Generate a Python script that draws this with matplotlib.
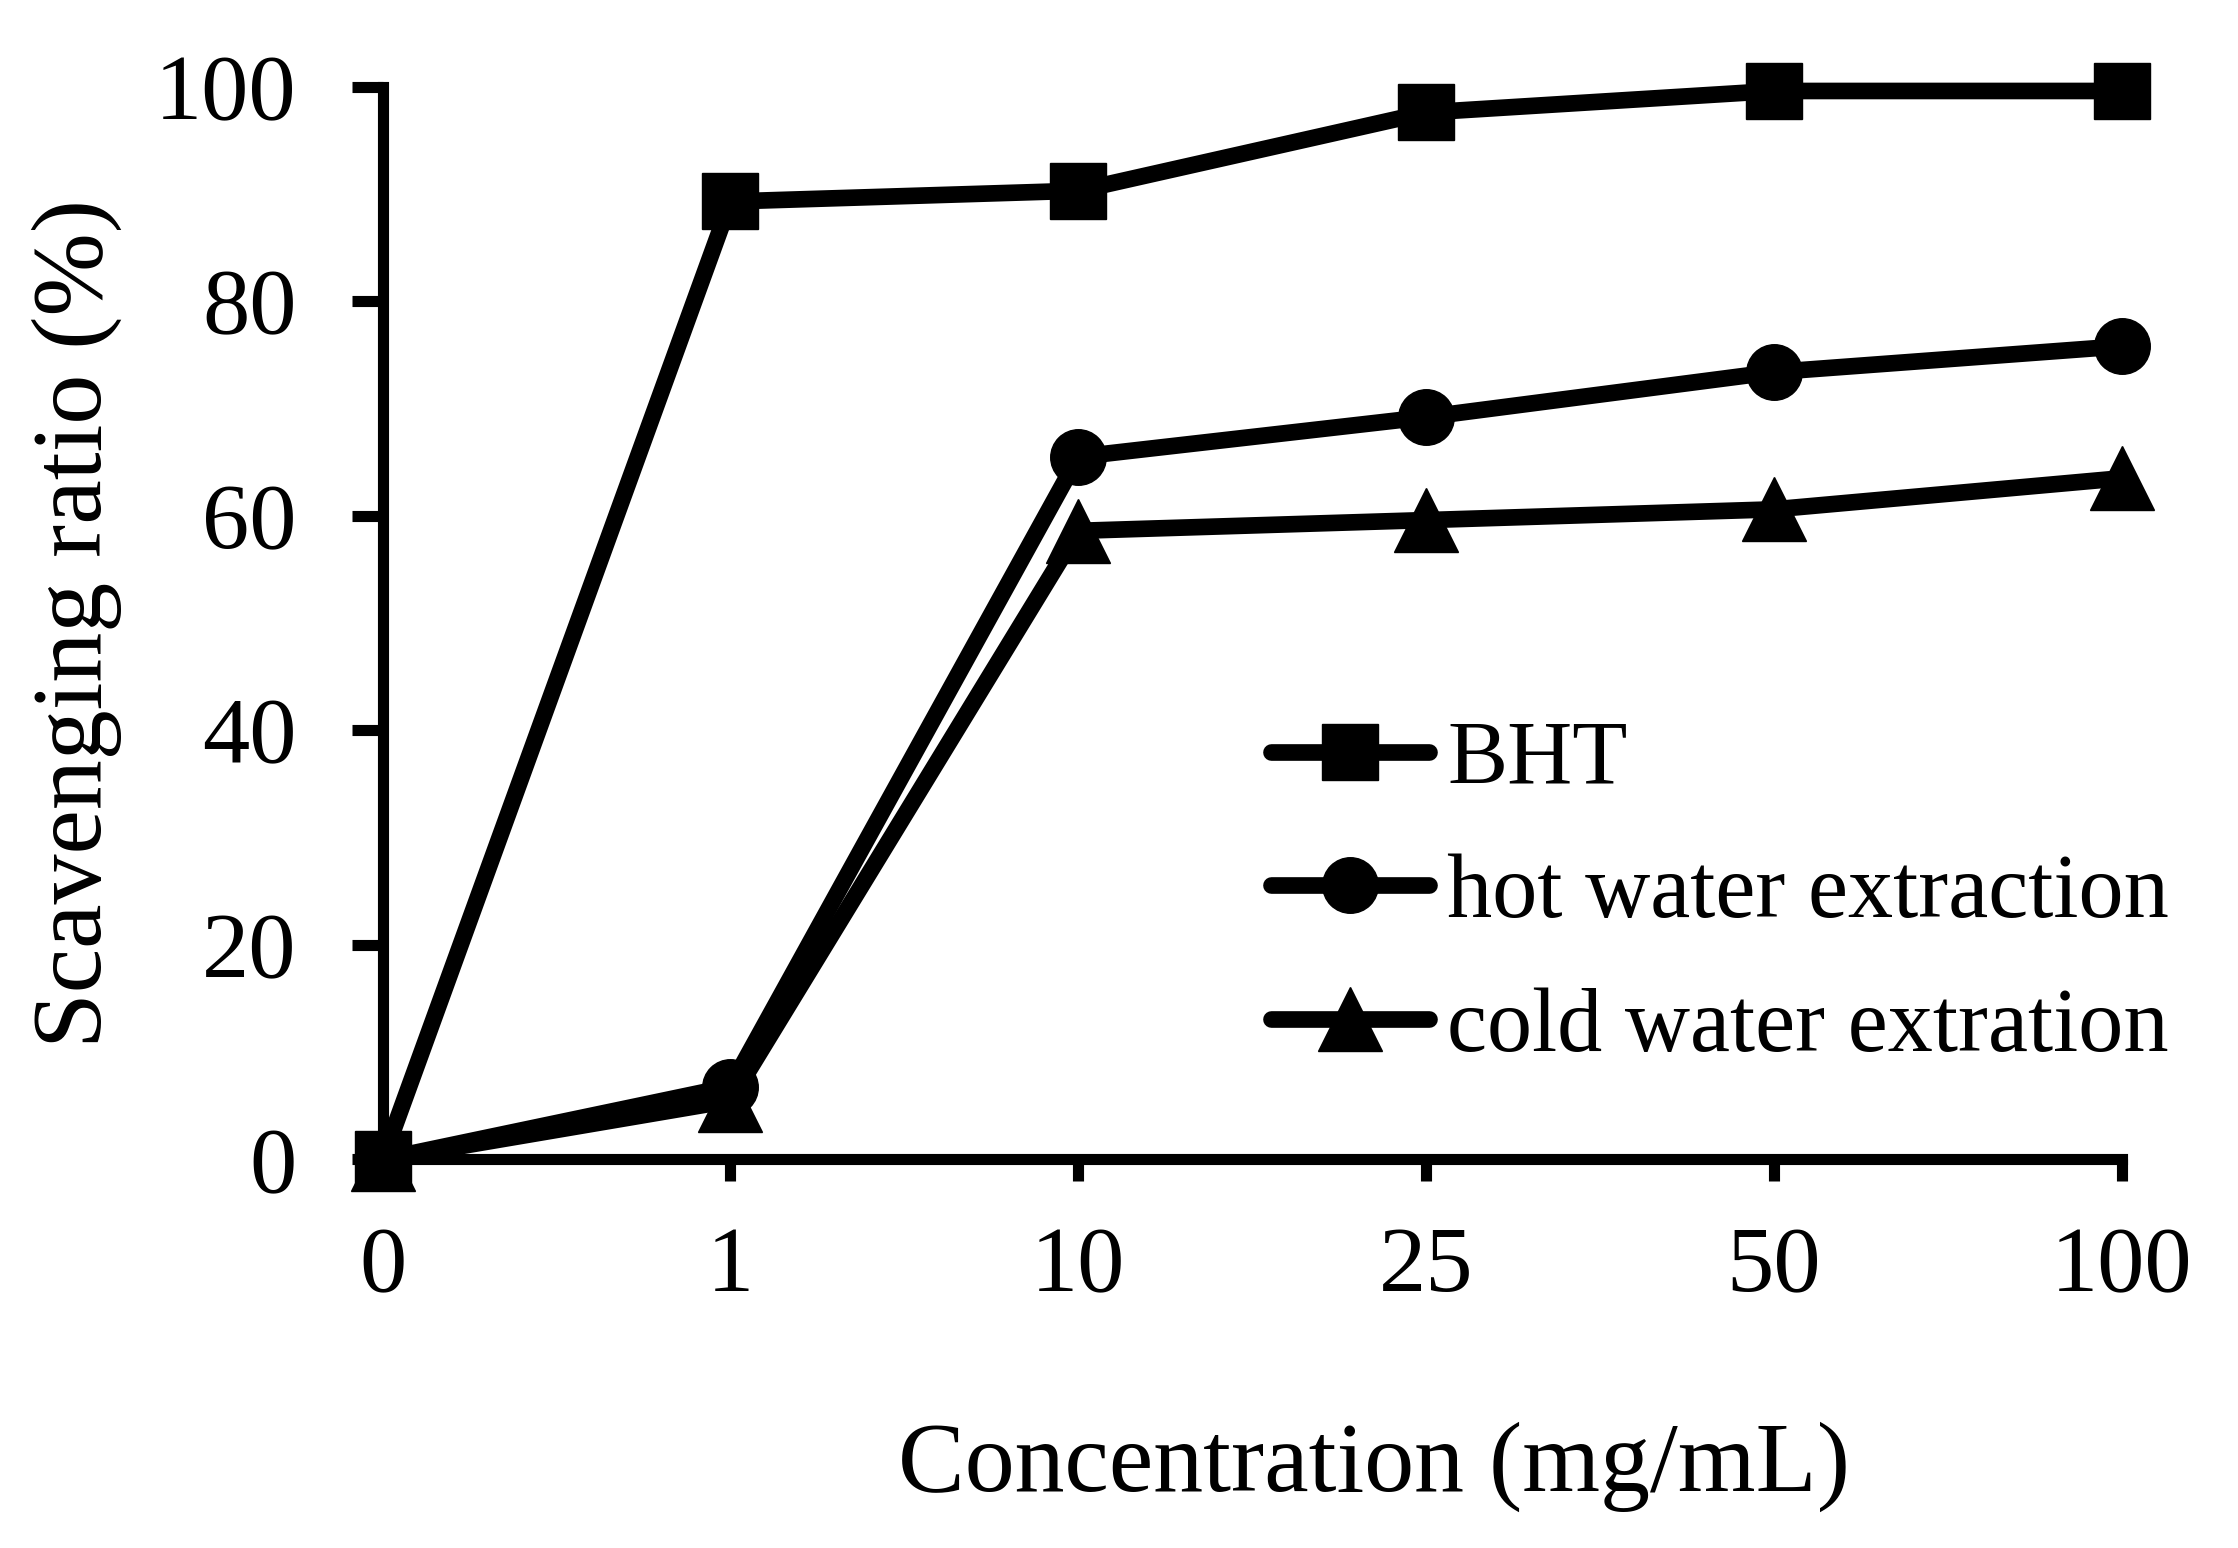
import numpy as np
import matplotlib
matplotlib.use('Agg')
from matplotlib import pyplot as plt

# data
conc_labels = ['0', '1', '10', '25', '50', '100']
bht = [0, 89.3, 90.3, 97.6, 99.6, 99.6]
hot_water = [0, 6.8, 65.5, 69.2, 73.4, 75.8]
cold_water = [0, 5.5, 58.6, 59.6, 60.6, 63.5]

plt.rcParams['font.family'] = ['Liberation Serif', 'DejaVu Serif']

fig = plt.figure(figsize=(22.38, 15.48), dpi=100)
ax = fig.add_axes([0.171, 0.251, 0.777, 0.693])

x = np.arange(len(conc_labels))
lw = 12
style = dict(color='k', lw=lw, clip_on=False, zorder=3,
             solid_capstyle='round', solid_joinstyle='round')
ax.plot(x, bht, marker='s', ms=40, label='BHT', **style)
ax.plot(x, hot_water, marker='o', ms=40, label='hot water extraction', **style)
ax.plot(x, cold_water, marker='^', ms=46, label='cold water extration', **style)

ax.set_xlim(0, 5)
ax.set_ylim(0, 100)
ax.set_xticks(x)
ax.set_xticklabels(conc_labels)
ax.set_yticks([0, 20, 40, 60, 80, 100])

for s in ['top', 'right']:
    ax.spines[s].set_visible(False)
for s in ['left', 'bottom']:
    ax.spines[s].set_linewidth(8)
    ax.spines[s].set_color('k')

ax.tick_params(axis='both', direction='out', labelsize=68, width=8, color='k')
ax.tick_params(axis='x', length=16, pad=32)
ax.tick_params(axis='y', length=22, pad=40)

ax.set_xlabel('Concentration (mg/mL)', fontsize=72)
ax.xaxis.set_label_coords(0.57, -0.244)
ax.set_ylabel('Scavenging ratio (%)', fontsize=72)
ax.yaxis.set_label_coords(-0.150, 0.5)

ax.legend(loc='upper left', bbox_to_anchor=(0.511, 0.41), frameon=False, fontsize=65,
          handlelength=1.75, handletextpad=0.2, labelspacing=0.57, borderpad=0,
          borderaxespad=0)

fig.savefig('out.png', dpi=100)
